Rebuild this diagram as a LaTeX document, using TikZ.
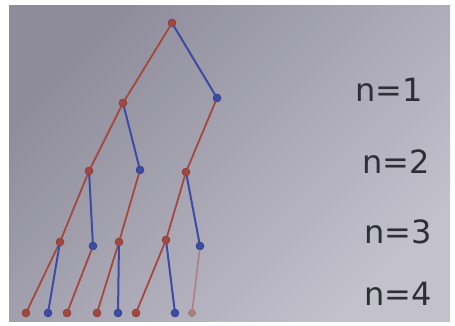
\documentclass[tikz,border=0pt]{standalone}
\usepackage{fontspec}
\setmainfont{DejaVu Sans}
\definecolor{paperA}{HTML}{8E8C9A}
\definecolor{paperB}{HTML}{C2C1CC}
\definecolor{rd}{HTML}{A4483F}
\definecolor{bl}{HTML}{3C4BA6}
\definecolor{pk}{HTML}{B08080}
\definecolor{ink}{HTML}{2E2E36}
\tikzset{
  rdot/.style={circle,fill=rd,draw=rd!70!black,inner sep=0pt,minimum size=8pt},
  bdot/.style={circle,fill=bl,draw=bl!70!black,inner sep=0pt,minimum size=8pt},
  pdot/.style={circle,fill=pk,draw=pk!80!black,inner sep=0pt,minimum size=7pt},
  redge/.style={draw=rd,line width=1.8pt,line cap=round},
  bedge/.style={draw=bl,line width=2pt,line cap=round},
  pedge/.style={draw=pk,line width=1.6pt,line cap=round},
  lab/.style={text=ink,font=\fontsize{32}{34}\selectfont,inner sep=0pt}
}
\begin{document}
\begin{tikzpicture}[x=1pt,y=-1pt]
\useasboundingbox (0,0) rectangle (455,325);
\fill[white] (0,0) rectangle (455,325);
\shade[top color=paperA,bottom color=paperB,shading angle=45] (9,5) rectangle (450,321);
% nodes
\node[rdot] (r) at (172,23) {};
\node[rdot] (a) at (123,103) {};
\node[bdot] (b) at (217,98) {};
\node[rdot] (c) at (89,171) {};
\node[bdot] (d) at (140,170) {};
\node[rdot] (e) at (186,172) {};
\node[rdot] (f) at (60,242) {};
\node[bdot] (g) at (93,246) {};
\node[rdot] (h) at (119,242) {};
\node[rdot] (i) at (166,240) {};
\node[bdot] (j) at (200,246) {};
\node[rdot] (l1) at (26,313) {};
\node[bdot] (l2) at (48,313) {};
\node[rdot] (l3) at (67,313) {};
\node[rdot] (l4) at (97,313) {};
\node[bdot] (l5) at (118,313) {};
\node[rdot] (l6) at (136,313) {};
\node[bdot] (l7) at (175,313) {};
\node[pdot] (l8) at (192,313) {};
% edges
\path[redge] (r) -- (a);
\path[bedge] (r) -- (b);
\path[redge] (a) -- (c);
\path[bedge] (a) -- (d);
\path[redge] (b) -- (e);
\path[redge] (c) -- (f);
\path[bedge] (c) -- (g);
\path[redge] (d) -- (h);
\path[redge] (e) -- (i);
\path[bedge] (e) -- (j);
\path[redge] (f) -- (l1);
\path[bedge] (f) -- (l2);
\path[redge] (g) -- (l3);
\path[redge] (h) -- (l4);
\path[bedge] (h) -- (l5);
\path[redge] (i) -- (l6);
\path[bedge] (i) -- (l7);
\path[pedge] (j) -- (l8);
% labels
\node[lab] (n1) at (389,90) {n=1};
\node[lab] (n2) at (396,162) {n=2};
\node[lab] (n3) at (398,232) {n=3};
\node[lab] (n4) at (398,294) {n=4};
\end{tikzpicture}
\end{document}
